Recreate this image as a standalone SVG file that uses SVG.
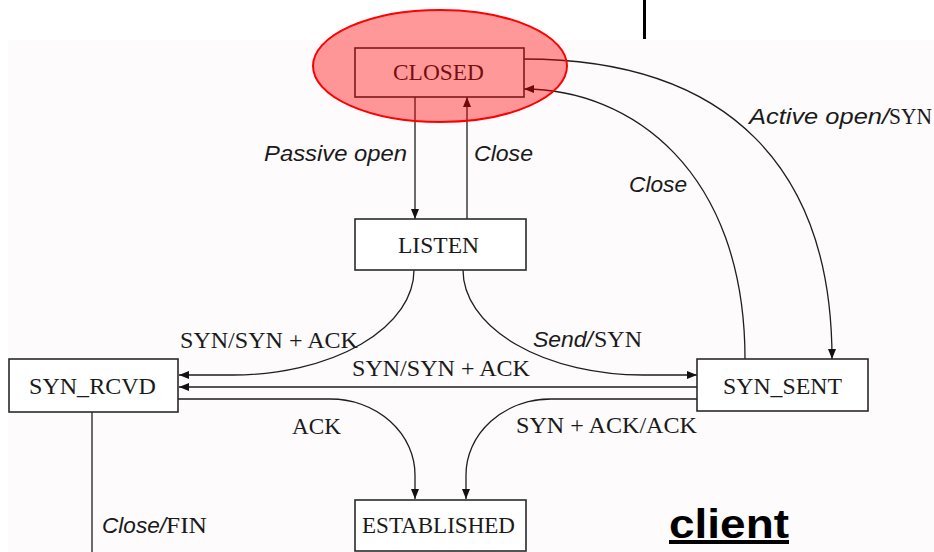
<svg xmlns="http://www.w3.org/2000/svg" width="934" height="552" viewBox="0 0 934 552">
  <defs>
    <marker id="arr" markerUnits="userSpaceOnUse" markerWidth="11" markerHeight="8" refX="10" refY="4" orient="auto">
      <path d="M0,0 L10,4 L0,8 z" fill="#111"/>
    </marker>
    <style>
      .box { fill: #ffffff; stroke: #2a2a2a; stroke-width: 1.6; }
      .edge { fill: none; stroke: #1e1e1e; stroke-width: 1.3; }
      .node { font-family: "Liberation Serif", "Times New Roman", serif; font-size: 24px; fill: #1a1a1a; }
      .lbl { font-family: "Liberation Serif", "Times New Roman", serif; font-size: 23px; fill: #1a1a1a; }
      .it { font-family: "Liberation Sans", Arial, sans-serif; font-style: italic; font-size: 22px; fill: #1a1a1a; }
      .client { font-family: "Liberation Sans", Arial, sans-serif; font-weight: bold; font-size: 40px; fill: #000; }
    </style>
  </defs>

  <rect x="0" y="0" width="934" height="552" fill="#ffffff"/>
  <rect x="8" y="40" width="926" height="512" fill="#fdfbfc"/>
  <line x1="644.5" y1="0" x2="644.5" y2="39" stroke="#000" stroke-width="3"/>

  <g id="connectors">
    <path class="edge" d="M415,97 L415,219" marker-end="url(#arr)"/>
    <path class="edge" d="M467,219 L467,97" marker-end="url(#arr)"/>
    <path class="edge" d="M524,59 C730,59 832,170 832,359" marker-end="url(#arr)"/>
    <path class="edge" d="M745,359 C745,170 630,89 524,89" marker-end="url(#arr)"/>
    <path class="edge" d="M414,270 A181,105 0 0 1 233,375 L179,375" marker-end="url(#arr)"/>
    <path class="edge" d="M463,270 A180,105 0 0 0 643,375 L697,375" marker-end="url(#arr)"/>
    <path class="edge" d="M697,387 L179,387" marker-end="url(#arr)"/>
    <path class="edge" d="M178,399 L330,399 A85,76 0 0 1 415,475 L415,499" marker-end="url(#arr)"/>
    <path class="edge" d="M697,399 L551,399 A85,76 0 0 0 466,475 L466,499" marker-end="url(#arr)"/>
    <path class="edge" d="M92,412 L92,552"/>
  </g>

  <g id="closed">
    <rect class="box" x="355" y="48" width="169" height="49"/>
    <text class="node" x="393" y="80" textLength="91" lengthAdjust="spacingAndGlyphs">CLOSED</text>
  </g>
  <g id="listen">
    <rect class="box" x="355" y="219" width="171" height="51"/>
    <text class="node" x="398" y="253" textLength="81" lengthAdjust="spacingAndGlyphs">LISTEN</text>
  </g>
  <g id="syn_rcvd">
    <rect class="box" x="9" y="359" width="169" height="53"/>
    <text class="node" x="29" y="394" textLength="127" lengthAdjust="spacingAndGlyphs">SYN_RCVD</text>
  </g>
  <g id="syn_sent">
    <rect class="box" x="697" y="359" width="171" height="52"/>
    <text class="node" x="723" y="394" textLength="119" lengthAdjust="spacingAndGlyphs">SYN_SENT</text>
  </g>
  <g id="established">
    <rect class="box" x="355" y="500" width="171" height="51"/>
    <text class="node" x="362" y="533" textLength="153" lengthAdjust="spacingAndGlyphs">ESTABLISHED</text>
  </g>

  <g id="labels">
    <text class="it" x="264" y="161" textLength="143" lengthAdjust="spacingAndGlyphs">Passive open</text>
    <text class="it" x="474" y="161" textLength="59" lengthAdjust="spacingAndGlyphs">Close</text>
    <text class="it" x="629" y="192" textLength="58" lengthAdjust="spacingAndGlyphs">Close</text>
    <text y="124"><tspan class="it" x="749" textLength="140" lengthAdjust="spacingAndGlyphs">Active open/</tspan><tspan class="lbl" x="889" textLength="43" lengthAdjust="spacingAndGlyphs">SYN</tspan></text>
    <text class="lbl" x="180" y="348" textLength="178" lengthAdjust="spacingAndGlyphs">SYN/SYN + ACK</text>
    <text y="347"><tspan class="it" x="533" textLength="60" lengthAdjust="spacingAndGlyphs">Send/</tspan><tspan class="lbl" x="594" textLength="48" lengthAdjust="spacingAndGlyphs">SYN</tspan></text>
    <text class="lbl" x="352" y="376" textLength="178" lengthAdjust="spacingAndGlyphs">SYN/SYN + ACK</text>
    <text class="lbl" x="292" y="434" textLength="49" lengthAdjust="spacingAndGlyphs">ACK</text>
    <text class="lbl" x="516" y="433" textLength="181" lengthAdjust="spacingAndGlyphs">SYN + ACK/ACK</text>
    <text y="533"><tspan class="it" x="102" textLength="64" lengthAdjust="spacingAndGlyphs">Close/</tspan><tspan class="lbl" x="166" textLength="41" lengthAdjust="spacingAndGlyphs">FIN</tspan></text>
    <text class="client" x="669" y="538" textLength="120" lengthAdjust="spacingAndGlyphs" text-decoration="underline">client</text>
  </g>

  <g id="highlight">
    <ellipse cx="440" cy="66" rx="127" ry="56" fill="#ff0000" fill-opacity="0.4" stroke="#ff0000" stroke-width="2"/>
  </g>
</svg>
